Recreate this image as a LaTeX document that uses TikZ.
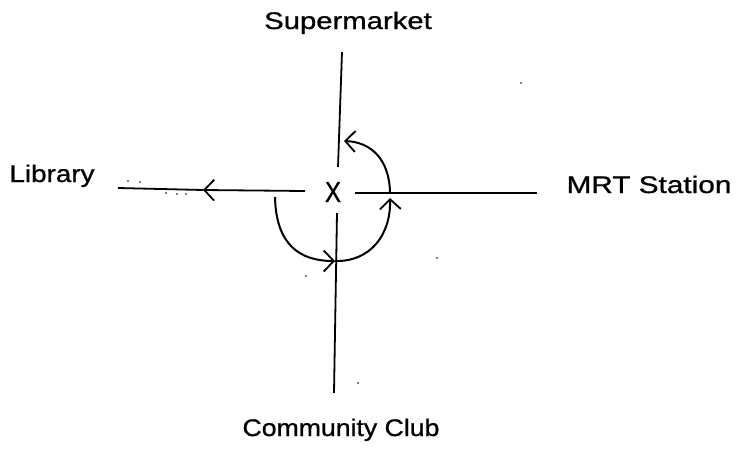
\documentclass[tikz,border=0pt]{standalone}
\usepackage{fontspec}
\setmainfont[FakeBold=0.8]{Liberation Sans}
\usepackage{graphicx}
\usetikzlibrary{arrows.meta}
\newcommand{\wide}[2]{\scalebox{#1}[1]{#2}}
\begin{document}
\begin{tikzpicture}[x=1pt,y=-1pt,
  lbl/.style={font=\fontsize{24}{28}\selectfont, inner sep=0pt, anchor=base},
  road/.style={line width=1.8pt},
  route/.style={line width=2pt},
  barb/.style={-{Straight Barb[length=10pt,width=21pt,line width=1.8pt]}},
  speck/.style={fill=black, inner sep=0pt, minimum size=1.8pt, circle}]
\useasboundingbox (0,0) rectangle (737,450);
% labels
\node[lbl] (sup) at (348,29) {\wide{1.22}{Supermarket}};
\node[lbl] (lib) at (52,182) {\wide{1.16}{Library}};
\node[lbl] (mrt) at (649,193) {\wide{1.24}{MRT Station}};
\node[lbl] (cc) at (341,436) {\wide{1.11}{Community Club}};
\node[font=\fontsize{24}{28}\selectfont, inner sep=0pt] (x) at (333,192) {\scalebox{1}[1.2]{X}};
% roads
\coordinate (vt1) at (342,52);
\coordinate (vt2) at (338,167);
\coordinate (vb1) at (337,213);
\coordinate (vb2) at (334,393);
\coordinate (lw) at (118,188);
\coordinate (la) at (203,190);
\coordinate (le) at (305,191);
\coordinate (rs) at (355,193);
\coordinate (re) at (537,193);
\draw[road] (vt1) -- (vt2);
\draw[road] (vb1) -- (vb2);
\draw[road,barb] (le) -- (la);
\draw[road] (la) -- (lw);
\draw[road] (rs) -- (re);
% route
\coordinate (c0) at (275,197);
\coordinate (c1) at (335,261);
\coordinate (c2) at (390,198);
\coordinate (c3) at (390,192);
\coordinate (c4) at (344,141);
\draw[route,barb] (c0) .. controls (276,245) and (300,261) .. (c1);
\draw[route,barb] (c1) .. controls (370,262) and (391,235) .. (c2);
\draw[route,barb] (c3) .. controls (389,158) and (370,142) .. (c4);
% specks
\node[speck] (s1) at (128,181) {};
\node[speck] (s2) at (140,182) {};
\node[speck] (s3) at (166,193) {};
\node[speck] (s4) at (177,194) {};
\node[speck] (s5) at (186,194) {};
\node[speck] (s6) at (306,276) {};
\node[speck] (s7) at (358,383) {};
\node[speck] (s8) at (437,258) {};
\node[speck] (s9) at (521,83) {};
\end{tikzpicture}
\end{document}
